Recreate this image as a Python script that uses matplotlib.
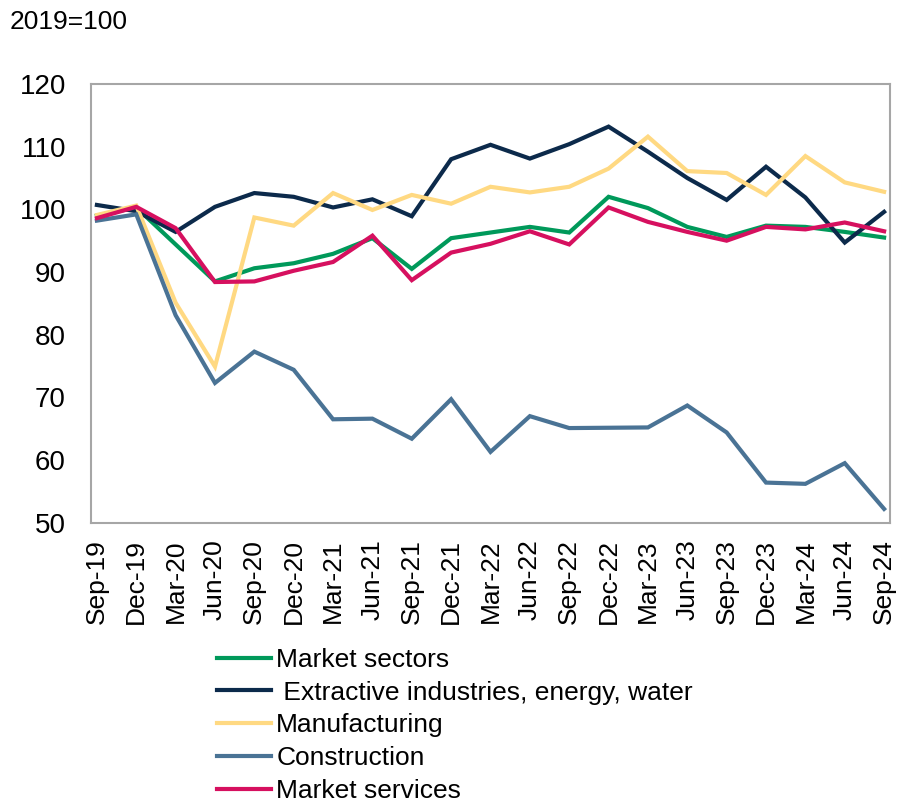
import numpy as np
import matplotlib
matplotlib.use("Agg")
import matplotlib.pyplot as plt

plt.rcParams["font.family"] = ["Liberation Sans", "DejaVu Sans"]

# Quartale
Quartale = ["Sep-19", "Dec-19", "Mar-20", "Jun-20", "Sep-20", "Dec-20", "Mar-21",
            "Jun-21", "Sep-21", "Dec-21", "Mar-22", "Jun-22", "Sep-22", "Dec-22",
            "Mar-23", "Jun-23", "Sep-23", "Dec-23", "Mar-24", "Jun-24", "Sep-24"]

# Index 2019=100
Marktsektoren = [99.0, 100.3, 94.4, 88.5, 90.6, 91.4, 92.9, 95.4, 90.5, 95.4, 96.3,
                 97.2, 96.3, 102.0, 100.2, 97.2, 95.6, 97.4, 97.2, 96.4, 95.5]
Bergbau_Energie = [100.7, 99.7, 96.4, 100.4, 102.6, 102.0, 100.3, 101.6, 98.9, 108.0, 110.3,
                   108.1, 110.4, 113.2, 109.2, 105.0, 101.5, 106.8, 101.9, 94.7, 99.6]
Verarbeitung = [99.1, 100.6, 85.1, 74.9, 98.7, 97.4, 102.6, 99.9, 102.3, 100.9, 103.6,
                102.7, 103.6, 106.5, 111.6, 106.1, 105.8, 102.3, 108.5, 104.3, 102.8]
Bau = [98.2, 99.2, 83.1, 72.3, 77.3, 74.4, 66.5, 66.6, 63.4, 69.7, 61.3,
       67.0, 65.1, 65.15, 65.2, 68.7, 64.4, 56.4, 56.2, 59.5, 52.2]
Dienstleistungen = [98.6, 100.4, 97.0, 88.4, 88.5, 90.2, 91.6, 95.8, 88.7, 93.1, 94.5,
                    96.5, 94.4, 100.3, 98.0, 96.4, 95.0, 97.2, 96.8, 97.9, 96.5]

Reihen = [
    ("Market sectors", Marktsektoren, "#00995A"),
    (" Extractive industries, energy, water", Bergbau_Energie, "#0C2A4B"),
    ("Manufacturing", Verarbeitung, "#FFD982"),
    ("Construction", Bau, "#4A7395"),
    ("Market services", Dienstleistungen, "#D6105F"),
]

fig = plt.figure(figsize=(8.99, 8.02), dpi=100)
ax = fig.add_axes([91 / 899, 1 - 522.7 / 802, (890 - 91) / 899, (522.7 - 84) / 802])

x = np.arange(len(Quartale))
for Name, Werte, Farbe in Reihen:
    ax.plot(x, Werte, color=Farbe, linewidth=3, label=Name, solid_joinstyle="miter")

ax.set_xlim(-0.15, len(Quartale) - 1 + 0.15)
ax.set_ylim(50, 120)
ax.set_yticks(range(50, 121, 10))
ax.set_xticks(x)
ax.set_xticklabels(Quartale, rotation=90, fontsize=19)
ax.tick_params(axis="y", labelsize=20, length=0, pad=18)
ax.tick_params(axis="x", length=0, pad=12)

for s in ax.spines.values():
    s.set_color("#A6A6A6")
    s.set_linewidth(1.5)

fig.text(10 / 899, 1 - 22 / 802, "2019=100", fontsize=19, va="center", ha="left")

fig.legend(loc="upper left", bbox_to_anchor=(217 / 899, 1 - 648 / 802),
           bbox_transform=fig.transFigure, frameon=False, fontsize=19,
           handlelength=2.05, handletextpad=0.2, labelspacing=0.33,
           borderpad=0, borderaxespad=0)

plt.savefig("out.png", dpi=100)
